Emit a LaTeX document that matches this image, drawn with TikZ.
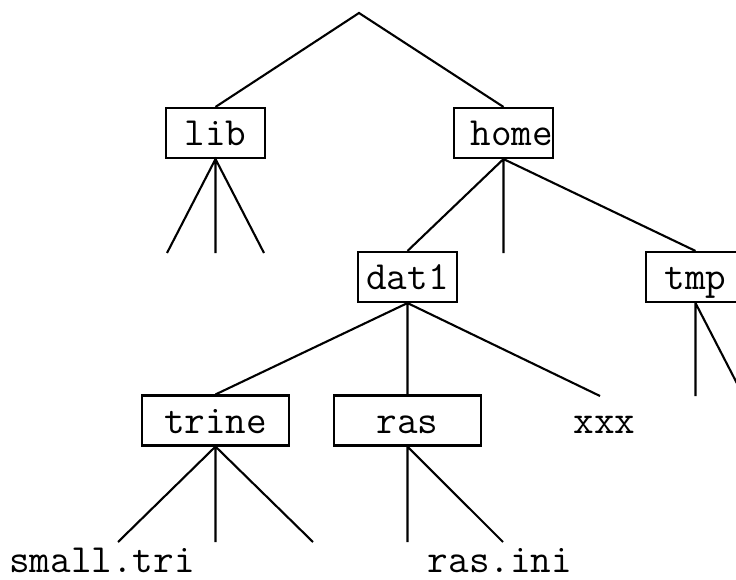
\documentclass[tikz,border=0pt]{standalone}
\begin{document}
\begin{tikzpicture}[x=1pt,y=-1pt,line width=2.1pt,
  font=\fontsize{40}{48}\selectfont\ttfamily,
  dir/.style={draw,minimum width=99pt,minimum height=50pt,inner sep=0pt,text height=27pt,text depth=2pt},
  wide/.style={dir,minimum width=147pt},
  leaf/.style={inner sep=0pt,text height=27pt,text depth=2pt},
  file/.style={inner sep=0pt,anchor=base}]
\useasboundingbox (0,0) rectangle (736,580);
\clip (0,0) rectangle (736,580);
\coordinate (root) at (359,13);
\node[dir] (lib) at (215.5,133) {lib};
\node[dir,text width=99pt,align=right] (home) at (503.5,133) {home};
\node[dir] (dat1) at (407.5,277) {dat1};
\node[dir] (tmp) at (695.5,277) {tmp};
\node[wide] (trine) at (215.5,420.5) {trine};
\node[wide] (ras) at (407.5,420.5) {ras};
\node[leaf] (xxx) at (604.5,420.5) {xxx};
\node[file] (small) at (102,572) {small.tri};
\node[file] (rasini) at (500,572) {ras.ini};
\coordinate (l1) at (167,253);
\coordinate (l2) at (215.5,253);
\coordinate (l3) at (264,253);
\coordinate (h2) at (503.5,253);
\coordinate (t1) at (695.5,396);
\coordinate (t2) at (743.5,396);
\coordinate (xt) at (600,396);
\coordinate (r1) at (118,542);
\coordinate (r2) at (215.5,542);
\coordinate (r3) at (313,542);
\coordinate (s1) at (407.5,542);
\coordinate (s2) at (503,542);
\draw (lib.north) -- (root) -- (home.north);
\draw (l1) -- (lib.south) -- (l3) (lib.south) -- (l2);
\draw (dat1.north) -- (home.south) -- (tmp.north) (home.south) -- (h2);
\draw (trine.north) -- (dat1.south) -- (xt) (dat1.south) -- (ras.north);
\draw (tmp.south) -- (t1) (tmp.south) -- (t2);
\draw (r1) -- (trine.south) -- (r3) (trine.south) -- (r2);
\draw (ras.south) -- (s1) (ras.south) -- (s2);
\end{tikzpicture}
\end{document}
